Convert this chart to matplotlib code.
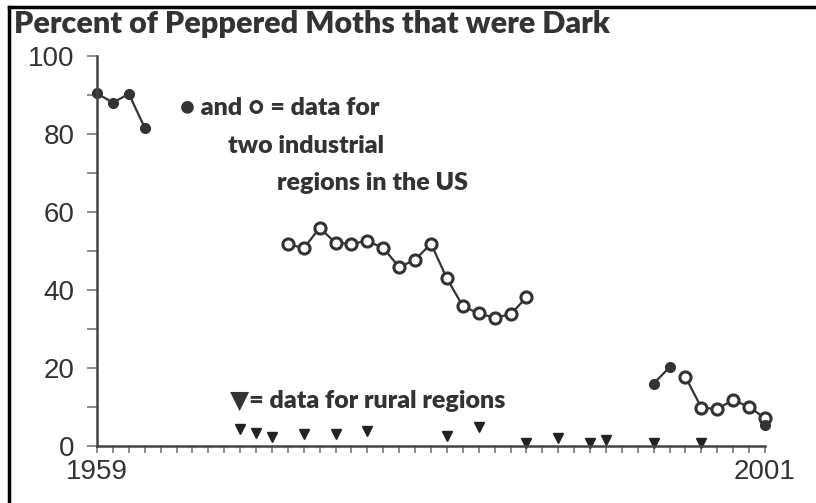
import matplotlib.pyplot as plt
from matplotlib.lines import Line2D

# filled dots (industrial region 1)
dark_a_years = [1959, 1960, 1961, 1962]
dark_a_pct = [90.4, 88.0, 90.3, 81.6]
dark_b_years = [1994, 1995]
dark_b_pct = [15.9, 20.1]
dark_c_years = [2001]
dark_c_pct = [5.3]

# open circles (industrial region 2)
open_a_years = list(range(1971, 1987))
open_a_pct = [51.8, 50.6, 55.9, 52.0, 51.8, 52.5, 50.7, 45.8,
              47.7, 51.8, 42.9, 35.8, 33.9, 32.8, 33.7, 38.0]
open_b_years = [1996, 1997, 1998, 1999, 2000, 2001]
open_b_pct = [17.6, 9.7, 9.4, 11.7, 9.9, 7.0]

# triangles (rural regions)
rural_years = [1968, 1969, 1970, 1972, 1974, 1976, 1981, 1983,
               1986, 1988, 1990, 1991, 1994, 1997]
rural_pct = [4.2, 3.3, 2.3, 2.9, 2.9, 3.8, 2.4, 4.8,
             0.7, 1.8, 0.6, 1.4, 0.6, 0.6]

W, H = 816, 503
fig = plt.figure(figsize=(W / 100, H / 100), dpi=100)
ax = fig.add_axes([97 / W, (H - 445.5) / H, 668 / W, 389.5 / H])

col = '#333333'
ax.plot(dark_a_years, dark_a_pct, '-o', color=col, lw=1.6, ms=7, clip_on=False)
ax.plot(dark_b_years, dark_b_pct, '-o', color=col, lw=1.6, ms=7, clip_on=False)
ax.plot(open_a_years, open_a_pct, '-o', color=col, lw=1.6, ms=8, mfc='white',
        mew=2.2, clip_on=False)
ax.plot(open_b_years, open_b_pct, '-o', color=col, lw=1.6, ms=8, mfc='white',
        mew=2.2, clip_on=False)
ax.plot(dark_c_years, dark_c_pct, 'o', color=col, ms=7, clip_on=False, zorder=3)
ax.plot(rural_years, rural_pct, 'v', color='#222222', ms=7.5, ls='none', clip_on=False)

ax.set_xlim(1959, 2001)
ax.set_ylim(0, 100)
for s in ['top', 'right']:
    ax.spines[s].set_visible(False)
for s in ['left', 'bottom']:
    ax.spines[s].set_color('#444444')
    ax.spines[s].set_linewidth(1.8)

ax.set_xticks([1959, 2001])
ax.set_xticks(range(1959, 2002), minor=True)
ax.set_yticks(range(0, 101, 20))
ax.set_yticks(range(10, 100, 20), minor=True)
ax.tick_params(axis='both', which='both', color='#777777', width=1.2)
ax.tick_params(axis='y', which='both', length=7, pad=9)
ax.tick_params(axis='x', which='both', length=5, pad=5)
for lab in ax.get_xticklabels() + ax.get_yticklabels():
    lab.set_fontfamily('Liberation Sans')
    lab.set_fontsize(20)
    lab.set_color('#333333')

fnt = ['Lato', 'DejaVu Sans']
fig.text(14 / W, 1 - 24 / H, 'Percent of Peppered Moths that were Dark',
         fontsize=22, fontweight='heavy', family=fnt, color='#333333', va='center')
fig.text(180 / W, 1 - 108 / H, '\u25cf and \u25cb = data for', fontsize=18,
         fontweight='heavy', family=fnt, color='#333333', va='center')
fig.text(228 / W, 1 - 146 / H, 'two industrial', fontsize=18,
         fontweight='heavy', family=fnt, color='#333333', va='center')
fig.text(277 / W, 1 - 183 / H, 'regions in the US', fontsize=18,
         fontweight='heavy', family=fnt, color='#333333', va='center')
fig.text(230 / W, 1 - 401 / H, '\u25bc= data for rural regions', fontsize=18,
         fontweight='heavy', family=fnt, color='#333333', va='center')

# frame lines on left and top
fig.add_artist(Line2D([9 / W, 9 / W], [0, 1 - 7 / H], color='black', lw=2.5))
fig.add_artist(Line2D([9 / W, 1], [1 - 7 / H, 1 - 7 / H], color='black', lw=2.5))

fig.savefig('out.png', dpi=100)
